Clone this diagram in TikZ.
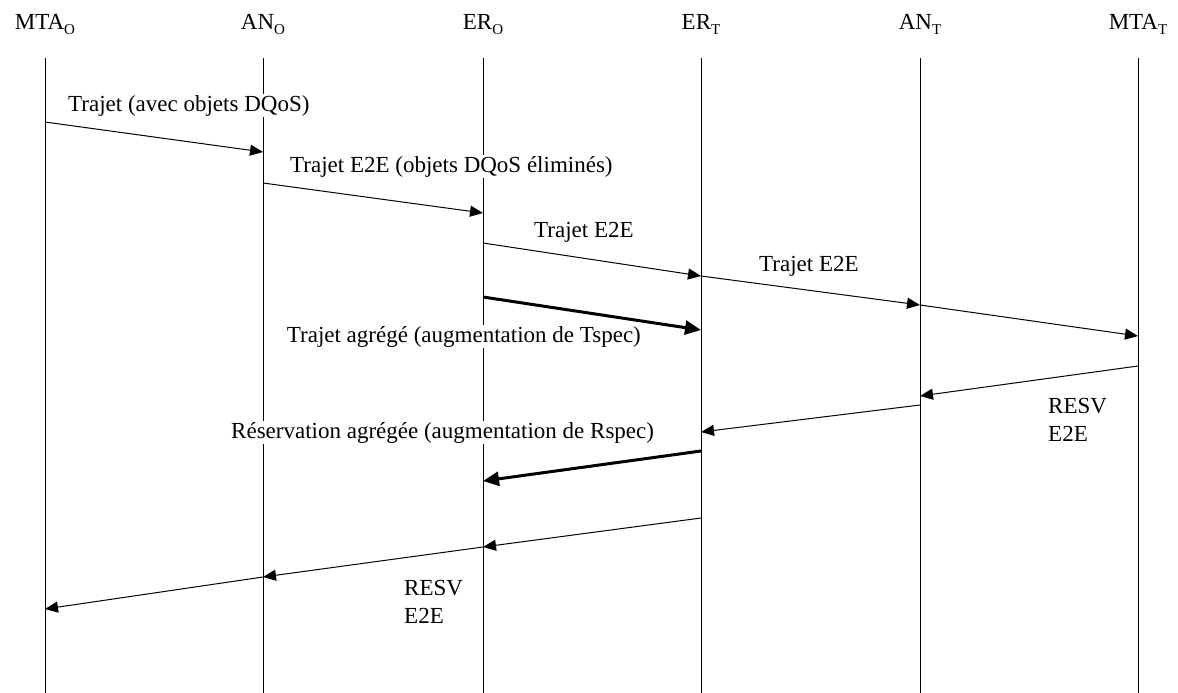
\documentclass[tikz,border=0pt]{standalone}
\usepackage{fontspec}
\setmainfont{Liberation Serif}
\usetikzlibrary{arrows.meta}
\newcommand\entsub[1]{\raisebox{-5pt}{\fontsize{15}{15}\selectfont #1}}
\begin{document}
\begin{tikzpicture}[x=1pt,y=-1pt,
  lbl/.style={font=\fontsize{23}{28}\selectfont, inner sep=0pt},
  msglbl/.style={lbl, fill=white, inner sep=1pt},
  head/.style={lbl, anchor=base},
  life/.style={line width=1pt},
  msg/.style={line width=1pt, -{Triangle[length=13pt,width=11pt]}},
  bigmsg/.style={line width=3pt, -{Triangle[length=16pt,width=14pt]}}]
\useasboundingbox (0,0) rectangle (1178,693);

% entity names
\node[head] (hMTAO) at (45,30)   {MTA\entsub{O}};
\node[head] (hANO)  at (263,30)  {AN\entsub{O}};
\node[head] (hERO)  at (483,30)  {ER\entsub{O}};
\node[head] (hERT)  at (701,30)  {ER\entsub{T}};
\node[head] (hANT)  at (920,30)  {AN\entsub{T}};
\node[head] (hMTAT) at (1138,30) {MTA\entsub{T}};

% lifelines
\coordinate (L1) at (45,58);   \coordinate (B1) at (45,693);
\coordinate (L2) at (263,58);  \coordinate (B2) at (263,693);
\coordinate (L3) at (483,58);  \coordinate (B3) at (483,693);
\coordinate (L4) at (701,58);  \coordinate (B4) at (701,693);
\coordinate (L5) at (920,58);  \coordinate (B5) at (920,693);
\coordinate (L6) at (1138,58); \coordinate (B6) at (1138,693);
\foreach \i in {1,...,6} { \draw[life] (L\i) -- (B\i); }

% message labels (opaque, they mask the lifelines they cross)
\node[msglbl, anchor=base west] (t1) at (67,111)  {Trajet (avec objets DQoS)};
\node[msglbl, anchor=base west] (t2) at (289,172) {Trajet E2E (objets DQoS éliminés)};
\node[msglbl, anchor=base west] (t3) at (533,237) {Trajet E2E};
\node[msglbl, anchor=base west] (t4) at (758,271) {Trajet E2E};
\node[msglbl, anchor=base east] (t5) at (642,342) {Trajet agrégé (augmentation de Tspec)};
\node[msglbl, anchor=base west] (r1) at (230,438) {Réservation agrégée (augmentation de Rspec)};
\node[lbl, anchor=base west, align=left] (r2) at (1048,441) {RESV\\E2E};
\node[lbl, anchor=base west, align=left] (r3) at (404,623) {RESV\\E2E};

% path messages
\draw[msg]    (L1 |- 0,122) -- (L2 |- 0,152);
\draw[msg]    (L2 |- 0,183) -- (L3 |- 0,213);
\draw[msg]    (L3 |- 0,243) -- (L4 |- 0,276);
\draw[msg]    (L4 |- 0,276) -- (L5 |- 0,305);
\draw[bigmsg] (L3 |- 0,297) -- (L4 |- 0,330);
\draw[msg]    (L5 |- 0,305) -- (L6 |- 0,336);

% reservation messages
\draw[msg]    (L6 |- 0,366) -- (L5 |- 0,396);
\draw[msg]    (L5 |- 0,405) -- (L4 |- 0,432);
\draw[bigmsg] (L4 |- 0,451) -- (L3 |- 0,481);
\draw[msg]    (L4 |- 0,518) -- (L3 |- 0,547);
\draw[msg]    (L3 |- 0,547) -- (L2 |- 0,577);
\draw[msg]    (L2 |- 0,577) -- (L1 |- 0,609);
\end{tikzpicture}
\end{document}
